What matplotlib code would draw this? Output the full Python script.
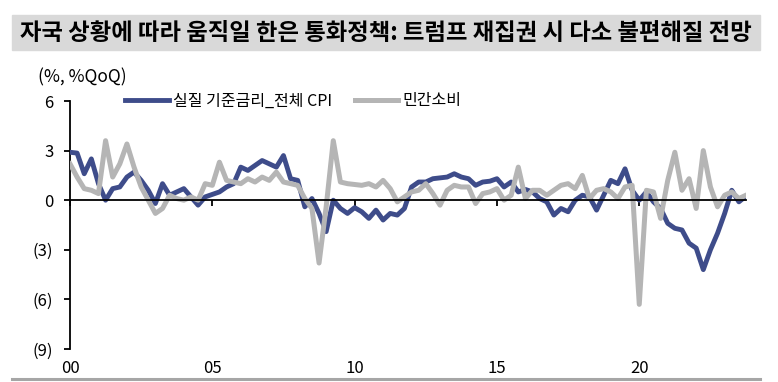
import numpy as np
import matplotlib
matplotlib.use('Agg')
import matplotlib.pyplot as plt
from matplotlib.patches import Rectangle
from matplotlib.lines import Line2D

plt.rcParams['font.family'] = ['Noto Sans CJK KR', 'DejaVu Sans']

# quarterly data, 2000Q1 - 2023Q4
real_rate = [2.9, 2.85, 1.6, 2.5, 1.0, 0.0, 0.7, 0.8, 1.4, 1.7, 1.2, 0.6,
             -0.2, 1.0, 0.3, 0.5, 0.7, 0.2, -0.3, 0.2, 0.35, 0.5, 0.8, 1.0,
             2.0, 1.8, 2.1, 2.4, 2.2, 2.0, 2.7, 1.3, 1.2, -0.4, 0.1, -0.8,
             -1.9, 0.0, -0.5, -0.8, -0.45, -0.7, -1.1, -0.6, -1.2, -0.8, -0.9, -0.5,
             0.8, 1.1, 1.1, 1.3, 1.35, 1.4, 1.6, 1.4, 1.3, 0.9, 1.1, 1.15,
             1.3, 0.8, 1.1, 0.5, 0.65, 0.5, 0.1, -0.1, -0.9, -0.5, -0.7, 0.0,
             0.3, 0.2, -0.6, 0.3, 1.2, 1.0, 1.9, 0.6, 0.0, 0.5, -0.1, -0.5,
             -1.4, -1.7, -1.8, -2.6, -2.9, -4.2, -3.0, -2.0, -0.8, 0.6, -0.1, 0.25]
consumption = [2.2, 1.4, 0.7, 0.6, 0.4, 3.6, 1.4, 2.2, 3.4, 2.0, 0.8, 0.0,
               -0.8, -0.5, 0.3, 0.1, 0.0, 0.2, 0.0, 1.0, 0.9, 2.3, 1.2, 1.1,
               1.0, 1.3, 1.1, 1.4, 1.2, 1.7, 1.1, 1.0, 0.9, 0.1, -0.5, -3.8,
               -0.4, 3.6, 1.1, 1.0, 0.95, 0.9, 1.0, 0.8, 1.2, 0.7, -0.1, 0.2,
               0.5, 0.6, 1.0, 0.4, -0.3, 0.6, 0.9, 0.8, 0.8, -0.2, 0.4, 0.5,
               0.7, 0.0, 0.3, 2.0, 0.1, 0.6, 0.6, 0.3, 0.6, 0.9, 1.0, 0.7,
               1.5, 0.1, 0.6, 0.7, 0.5, 0.1, 0.8, 0.9, -6.3, 0.6, 0.5, -1.1,
               1.2, 2.9, 0.6, 1.3, -0.5, 3.0, 0.8, -0.4, 0.3, 0.5, 0.1, 0.3]
x = 2000 + np.arange(len(real_rate)) / 4

yticks = [6, 3, 0, -3, -6, -9]
ylabels = ['6', '3', '0', '(3)', '(6)', '(9)']
xticks = [2000, 2005, 2010, 2015, 2020]
xlabels = ['00', '05', '10', '15', '20']

W, H = 778, 382
fig = plt.figure(figsize=(W / 100, H / 100), dpi=100)
ax = fig.add_axes([70 / W, 1 - 349 / H, (746 - 70) / W, (349 - 101) / H])

blue = '#3e4c8a'
gray = '#b5b5b5'
ax.plot(x, real_rate, color=blue, lw=3.5, solid_joinstyle='round', zorder=3)
ax.plot(x, consumption, color=gray, lw=3.6, solid_joinstyle='round', zorder=4)

ax.set_xlim(2000, 2023.75)
ax.set_ylim(-9, 6)
for s in ['top', 'right']:
    ax.spines[s].set_visible(False)
ax.spines['left'].set_linewidth(1.3)
ax.spines['bottom'].set_position(('data', 0))
ax.spines['bottom'].set_linewidth(1.3)
ax.spines['bottom'].set_zorder(5)

ax.set_yticks(yticks)
ax.set_yticklabels(ylabels)
ax.set_xticks(xticks)
ax.set_xticklabels(xlabels)
ax.tick_params(axis='y', length=4, width=1.3, labelsize=12, pad=8)
ax.tick_params(axis='x', length=4, width=1.3, labelsize=12, pad=111)

# title band
fig.patches.append(Rectangle((12 / W, 1 - 50 / H), 748 / W, 35 / H,
                             transform=fig.transFigure, color='#d9d9d9', zorder=0))
fig.text(386 / W, 1 - 33 / H, '자국 상황에 따라 움직일 한은 통화정책: 트럼프 재집권 시 다소 불편해질 전망',
         ha='center', va='center', fontsize=16.8, fontweight='bold')

fig.text(38 / W, 1 - 77 / H, '(%, %QoQ)', ha='left', va='center', fontsize=12.5)

handles = [Line2D([], [], color=blue, lw=3.5), Line2D([], [], color=gray, lw=3.6)]
fig.legend(handles, ['실질 기준금리_전체 CPI', '민간소비'], ncol=2, frameon=False,
           loc='center left', bbox_to_anchor=(111 / W, 1 - 101 / H),
           fontsize=11.5, handlelength=2.7, handletextpad=0.3, columnspacing=1.4)

# bottom rule
fig.add_artist(Line2D([12 / W, 760 / W], [1 - 379 / H] * 2, transform=fig.transFigure,
                      color='#a6a6a6', lw=2.2))

fig.savefig('out.png', dpi=100)
